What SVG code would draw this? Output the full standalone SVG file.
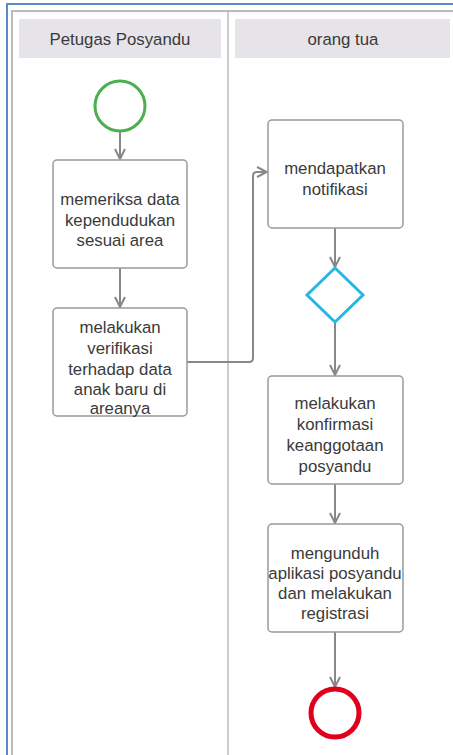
<svg xmlns="http://www.w3.org/2000/svg" width="453" height="755" viewBox="0 0 453 755">
<style>
.lbl{font-family:"Liberation Sans",Arial,sans-serif;font-size:16.8px;fill:#3a3a3a;text-anchor:middle}
.box{fill:#fff;stroke:#999;stroke-width:1.5}
.hdr{fill:#e6e4e8}
.con{fill:none;stroke:#888;stroke-width:2}
</style>
<defs>
<marker id="arr" viewBox="0 0 12 12" refX="11" refY="6" markerWidth="12" markerHeight="12" markerUnits="userSpaceOnUse" orient="auto">
<path d="M1,1 L11,6 L1,11" fill="none" stroke="#888" stroke-width="2"/>
</marker>
</defs>
<rect width="453" height="755" fill="#fff"/>
<g id="pool">
<rect x="7" y="4" width="460" height="770" fill="none" stroke="#5a8ac8" stroke-width="2"/>
<rect x="12" y="11" width="460" height="770" fill="none" stroke="#bbb" stroke-width="2"/>
<line x1="228" y1="11" x2="228" y2="755" stroke="#bbb" stroke-width="1.5"/>
</g>
<g id="lane1">
<rect class="hdr" x="19" y="19" width="202" height="39"/>
<text class="lbl" x="120" y="45">Petugas Posyandu</text>
</g>
<g id="lane2">
<rect class="hdr" x="235" y="19" width="215" height="39"/>
<text class="lbl" x="343" y="45">orang tua</text>
</g>
<g id="connectors">
<line class="con" x1="120" y1="132" x2="120" y2="159" marker-end="url(#arr)"/>
<line class="con" x1="120" y1="268" x2="120" y2="307" marker-end="url(#arr)"/>
<path class="con" d="M187,362 H249 Q253,362 253,358 V176 Q253,172 257,172 H267" marker-end="url(#arr)"/>
<line class="con" x1="335" y1="228" x2="335" y2="267" marker-end="url(#arr)"/>
<line class="con" x1="335" y1="323" x2="335" y2="375" marker-end="url(#arr)"/>
<line class="con" x1="335" y1="484" x2="335" y2="523" marker-end="url(#arr)"/>
<line class="con" x1="335" y1="632" x2="335" y2="687" marker-end="url(#arr)"/>
</g>
<g id="start">
<circle cx="120" cy="106" r="25" fill="#fff" stroke="#4caf50" stroke-width="3"/>
</g>
<g id="task1">
<rect class="box" x="53" y="160" width="134" height="108" rx="4"/>
<text class="lbl" x="120" y="205">memeriksa data</text>
<text class="lbl" x="120" y="226">kependudukan</text>
<text class="lbl" x="120" y="246">sesuai area</text>
</g>
<g id="task2">
<rect class="box" x="53" y="308" width="134" height="108" rx="4"/>
<text class="lbl" x="120" y="333">melakukan</text>
<text class="lbl" x="120" y="354">verifikasi</text>
<text class="lbl" x="120" y="375">terhadap data</text>
<text class="lbl" x="120" y="395">anak baru di</text>
<text class="lbl" x="120" y="414">areanya</text>
</g>
<g id="task3">
<rect class="box" x="268" y="120" width="135" height="108" rx="4"/>
<text class="lbl" x="335" y="174">mendapatkan</text>
<text class="lbl" x="335" y="195">notifikasi</text>
</g>
<g id="gateway">
<polygon points="335,268 363,295 335,322 307,295" fill="#fff" stroke="#29b6e0" stroke-width="3"/>
</g>
<g id="task4">
<rect class="box" x="268" y="376" width="135" height="108" rx="4"/>
<text class="lbl" x="335" y="409">melakukan</text>
<text class="lbl" x="335" y="430">konfirmasi</text>
<text class="lbl" x="335" y="451">keanggotaan</text>
<text class="lbl" x="335" y="472">posyandu</text>
</g>
<g id="task5">
<rect class="box" x="268" y="524" width="135" height="108" rx="4"/>
<text class="lbl" x="335" y="559">mengunduh</text>
<text class="lbl" x="335" y="579">aplikasi posyandu</text>
<text class="lbl" x="335" y="599">dan melakukan</text>
<text class="lbl" x="335" y="619">registrasi</text>
</g>
<g id="end">
<circle cx="335" cy="713" r="24" fill="#fff" stroke="#e0001b" stroke-width="5"/>
</g>
</svg>
